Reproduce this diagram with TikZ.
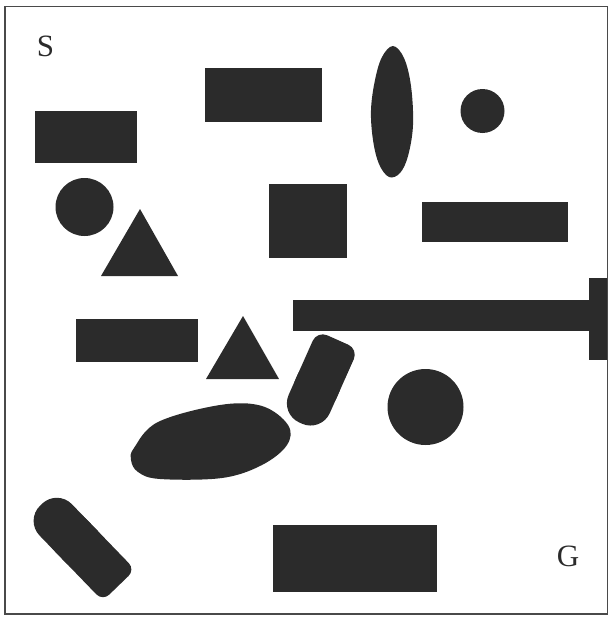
\documentclass[tikz,border=0pt]{standalone}
\usepackage{fontspec}
\setmainfont{Liberation Serif}
\definecolor{obst}{HTML}{2B2B2B}
\definecolor{frame}{HTML}{4A4A4A}
\begin{document}
\begin{tikzpicture}[x=1pt,y=-1pt,
  ob/.style={fill=obst},
  lbl/.style={font=\fontsize{31}{31}\selectfont, text=obst, inner sep=0pt}]
\useasboundingbox (0,0) rectangle (609,618);
% frame
\draw[frame, line width=1.8pt] (5,6.5) rectangle (607.5,614);
% labels
\node[lbl] (S) at (45.5,46) {S};
\node[lbl] (G) at (568,556) {G};
% rectangles
\fill[ob] (35,111) rectangle (137,163);
\fill[ob] (205,68) rectangle (322,122);
\fill[ob] (269,184) rectangle (347,258);
\fill[ob] (422,202) rectangle (568,242);
\fill[ob] (76,319) rectangle (198,362);
\fill[ob] (273,525) rectangle (437,592);
% T bar
\fill[ob] (293,300) rectangle (595,331);
\fill[ob] (589,278) rectangle (607,360);
% circles
\fill[ob] (482.5,111) circle[radius=22];
\fill[ob] (84.5,207) circle[radius=29];
\fill[ob] (425.5,407) circle[radius=38];
% triangles
\fill[ob] (140,209) -- (178,276) -- (101,276) -- cycle;
\fill[ob] (243,316) -- (279,379) -- (206,379) -- cycle;
% vertical ellipse
\fill[ob] plot[smooth cycle, tension=0.6] coordinates
  {(393,46) (382,57) (375,80) (371,110) (373,140) (379,164) (389,177) (400,173) (408,156) (413,125) (411,86) (404,58)};
% big blob
\fill[ob] plot[smooth cycle, tension=0.6] coordinates
  {(134,448) (158,422) (220,405) (262,406) (288,425) (287,445) (262,465) (222,478) (160,479) (138,472) (131,460)};
% capsule near T
\begin{scope}[shift={(319,382)}, rotate=66]
  \fill[ob, rounded corners=11] (-20,-22.5) rectangle (46,22.5);
  \fill[ob, rounded corners=21] (-45,-22.5) rectangle (20,22.5);
\end{scope}
% bottom-left capsule
\begin{scope}[shift={(80,545)}, rotate=-46]
  \fill[ob, rounded corners=21] (-56,-22.5) rectangle (25,22.5);
  \fill[ob, rounded corners=9] (-25,-22.5) rectangle (56,22.5);
\end{scope}
\end{tikzpicture}
\end{document}
